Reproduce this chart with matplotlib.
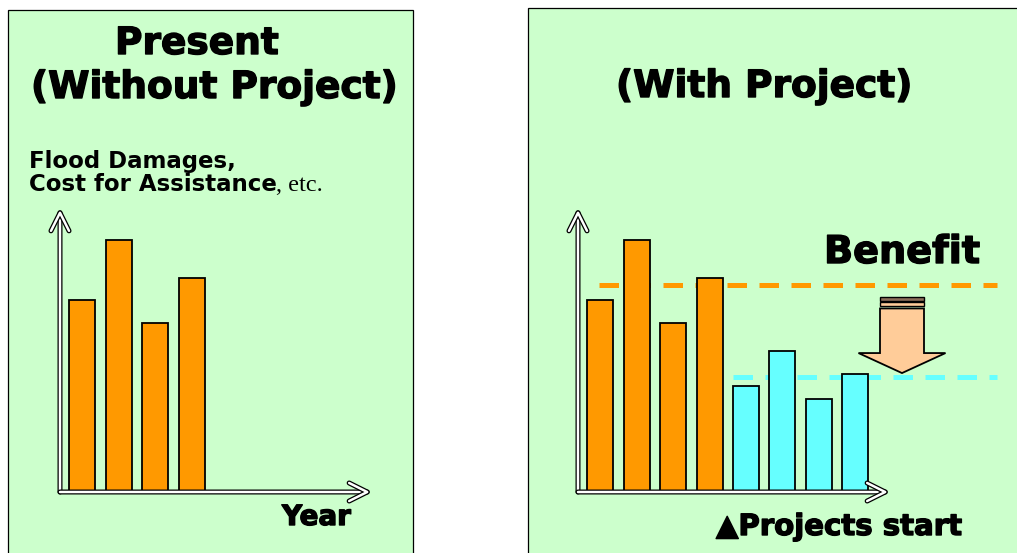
import numpy as np
import matplotlib
matplotlib.use("Agg")
import matplotlib.pyplot as plt
from matplotlib.patches import Rectangle, FancyArrowPatch, Polygon
import matplotlib.patheffects as pe

# ---------------- data ----------------
damage_without = [76, 100, 67, 85]      # yearly damages before the project
damage_with = [42, 56, 37, 47]          # yearly damages after the project starts
left_title = ["Present", "(Without Project)"]
right_title = "(With Project)"
ylabel_lines = ["Flood Damages,", "Cost for Assistance"]
ylabel_suffix = ", etc."
xlabel_left = "Year"
xlabel_right = "\u25B2Projects start"
benefit_label = "Benefit"

# ---------------- style ----------------
GREEN = "#CCFFCC"
ORANGE = "#FF9900"
CYAN = "#66FFFF"
ARROW_FILL = "#FFCC99"
FONT = "DejaVu Sans"
HEAVY = [pe.withStroke(linewidth=1.0, foreground="black")]

W, H = 1017, 553
fig = plt.figure(figsize=(W / 100, H / 100), dpi=100)
fig.patch.set_facecolor("white")


def fx(px):
    return px / W


def fy(py):
    return 1 - py / H


# panel backgrounds
fig.add_artist(Rectangle((fx(8), fy(565)), fx(413) - fx(8), fy(10) - fy(565),
                         transform=fig.transFigure, facecolor=GREEN,
                         edgecolor="black", lw=0.9, zorder=0))
fig.add_artist(Rectangle((fx(528), fy(565)), fx(1030) - fx(528), fy(8) - fy(565),
                         transform=fig.transFigure, facecolor=GREEN,
                         edgecolor="black", lw=0.9, zorder=0))

PX_X = 36.5   # pixels per bar slot
PX_Y = 2.52   # pixels per damage unit


def chart_axes(x0):
    ax = fig.add_axes([fx(x0), fy(492), 310 / W, 282 / H])
    ax.set_xlim(-22 / PX_X, (310 - 22) / PX_X)
    ax.set_ylim(0, 282 / PX_Y)
    ax.axis("off")
    return ax


def axis_arrows(ax):
    for start, end in [((0, 0), (0, 1)), ((0, 0), (1, 0))]:
        a = FancyArrowPatch(start, end, transform=ax.transAxes,
                            arrowstyle="->,head_length=13,head_width=6.5",
                            mutation_scale=1, color="white", lw=1.8,
                            shrinkA=0, shrinkB=0, clip_on=False, zorder=5,
                            path_effects=[pe.withStroke(linewidth=3.6, foreground="black")])
        ax.add_patch(a)


bar_w = 26 / PX_X

# ---------------- left chart ----------------
axL = chart_axes(60)
xl = np.arange(len(damage_without))
axL.bar(xl, damage_without, width=bar_w, color=ORANGE, edgecolor="black",
        lw=1.3, zorder=3)
axis_arrows(axL)

# ---------------- right chart ----------------
axR = chart_axes(578)
n0 = len(damage_without)
xr0 = np.arange(n0)
xr1 = np.arange(n0, n0 + len(damage_with))
axR.bar(xr0, damage_without, width=bar_w, color=ORANGE, edgecolor="black",
        lw=1.3, zorder=3)
axR.bar(xr1, damage_with, width=bar_w, color=CYAN, edgecolor="black",
        lw=1.3, zorder=3)
axis_arrows(axR)

lvl_without = np.mean(damage_without)
lvl_with = np.mean(damage_with)
axR.hlines(lvl_without, -1 / PX_X, 397 / PX_X, colors=ORANGE, lw=3.6,
           linestyles=(0, (3.9, 2.5)), clip_on=False, zorder=1)
axR.hlines(lvl_with, 133 / PX_X, 397 / PX_X, colors=CYAN, lw=3.6,
           linestyles=(0, (3.9, 2.5)), clip_on=False, zorder=1)

# benefit block arrow (from the "without" level down to the "with" level)
cx = 302 / PX_X
sw = 22 / PX_X
hw = 43.5 / PX_X
tip = lvl_with + 1.7
head_base = tip + 20 / PX_Y
top = lvl_without - 4.6
stripe1 = (top - 4 / PX_Y, top)
stripe2 = (top - 9.5 / PX_Y, top - 5.5 / PX_Y)
shaft_top = top - 11.5 / PX_Y
axR.add_patch(Rectangle((cx - sw, stripe1[0]), 2 * sw, stripe1[1] - stripe1[0],
                        facecolor="#8C6E5A", edgecolor="black", lw=1.0,
                        clip_on=False, zorder=4))
axR.add_patch(Rectangle((cx - sw, stripe2[0]), 2 * sw, stripe2[1] - stripe2[0],
                        facecolor=ARROW_FILL, edgecolor="black", lw=1.0,
                        clip_on=False, zorder=4))
axR.add_patch(Polygon([(cx - sw, shaft_top), (cx + sw, shaft_top),
                       (cx + sw, head_base), (cx + hw, head_base),
                       (cx, tip), (cx - hw, head_base),
                       (cx - sw, head_base)], closed=True,
                      facecolor=ARROW_FILL, edgecolor="black", lw=1.3,
                      joinstyle="miter", clip_on=False, zorder=4))

# ---------------- texts ----------------
fig.text(fx(115), fy(54), left_title[0], fontsize=27, weight="bold",
         family=FONT, va="baseline", ha="left", path_effects=HEAVY)
fig.text(fx(31), fy(98), left_title[1], fontsize=27, weight="bold",
         family=FONT, va="baseline", ha="left", path_effects=HEAVY)
fig.text(fx(616), fy(97), right_title, fontsize=27, weight="bold",
         family=FONT, va="baseline", ha="left", path_effects=HEAVY)
fig.text(fx(29), fy(168), ylabel_lines[0], fontsize=16.5, weight="bold",
         family=FONT, va="baseline", ha="left")
fig.text(fx(29), fy(191), ylabel_lines[1], fontsize=16.5, weight="bold",
         family=FONT, va="baseline", ha="left")
fig.text(fx(276), fy(191), ylabel_suffix, fontsize=17.5,
         family="Liberation Serif", va="baseline", ha="left")
fig.text(fx(282), fy(525), xlabel_left, fontsize=20, weight="bold",
         family=FONT, va="baseline", ha="left", path_effects=HEAVY)
fig.text(fx(716), fy(535), xlabel_right, fontsize=21, weight="bold",
         family=FONT, va="baseline", ha="left", path_effects=HEAVY)
fig.text(fx(824), fy(263), benefit_label, fontsize=27.5, weight="bold",
         family=FONT, va="baseline", ha="left", path_effects=HEAVY)

fig.savefig("out.png", dpi=100)
